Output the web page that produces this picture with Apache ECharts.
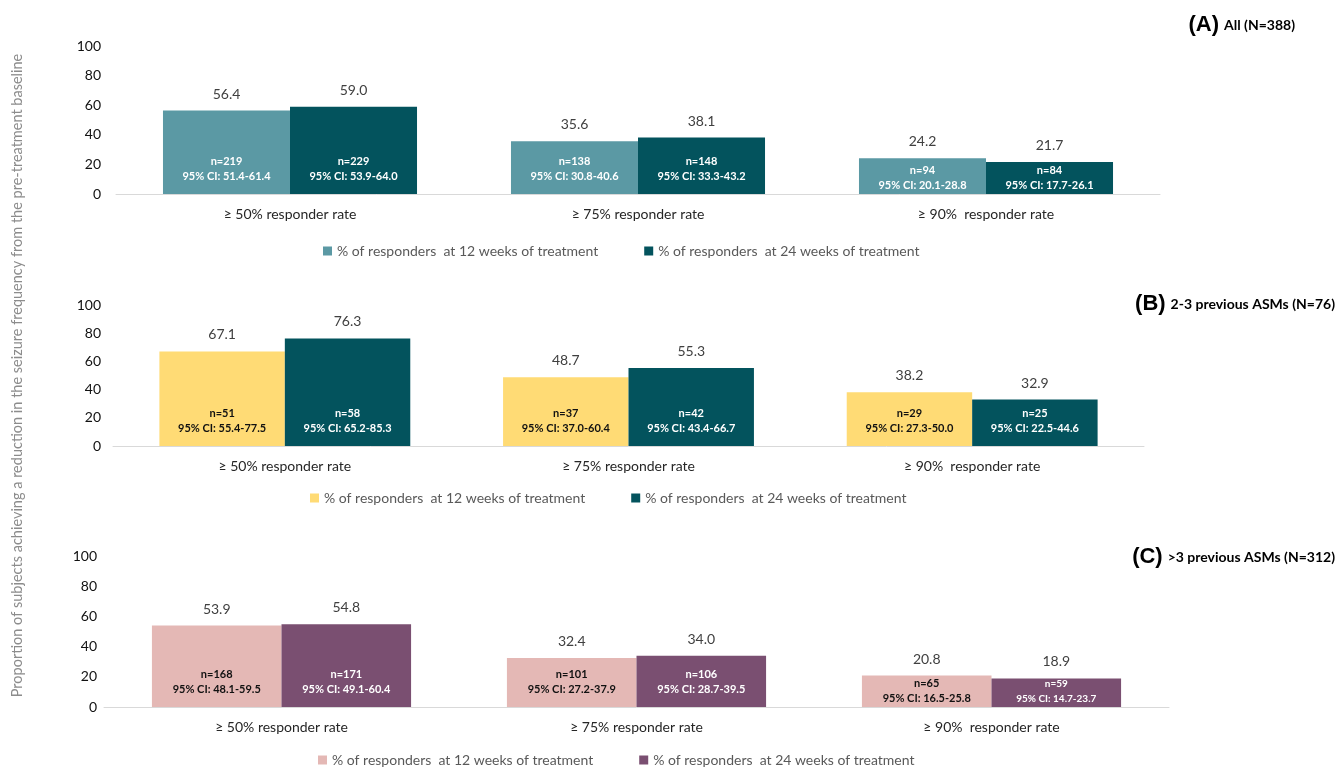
<!DOCTYPE html>
<html>
<head>
<meta charset="utf-8">
<script src="https://cdn.jsdelivr.net/npm/echarts@6/dist/echarts.min.js"></script>
<style>html,body{margin:0;padding:0;background:#fff}#c{width:1343px;height:769px}</style>
</head>
<body>
<div id="c"></div>
<script>
// ---- data ----
const categories = ['≥ 50% responder rate', '≥ 75% responder rate', '≥ 90%  responder rate'];
const legendLabels = ['% of responders  at 12 weeks of treatment', '% of responders  at 24 weeks of treatment'];
const yTicks = [0, 20, 40, 60, 80, 100];

const A12 = [56.4, 35.6, 24.2];
const A24 = [59.0, 38.1, 21.7];
const A12n = [219, 138, 94];
const A24n = [229, 148, 84];
const A12ci = ['51.4-61.4', '30.8-40.6', '20.1-28.8'];
const A24ci = ['53.9-64.0', '33.3-43.2', '17.7-26.1'];

const B12 = [67.1, 48.7, 38.2];
const B24 = [76.3, 55.3, 32.9];
const B12n = [51, 37, 29];
const B24n = [58, 42, 25];
const B12ci = ['55.4-77.5', '37.0-60.4', '27.3-50.0'];
const B24ci = ['65.2-85.3', '43.4-66.7', '22.5-44.6'];

const C12 = [53.9, 32.4, 20.8];
const C24 = [54.8, 34.0, 18.9];
const C12n = [168, 101, 65];
const C24n = [171, 106, 59];
const C12ci = ['48.1-59.5', '27.2-37.9', '16.5-25.8'];
const C24ci = ['49.1-60.4', '28.7-39.5', '14.7-23.7'];

const panelTitles = [['(A)', 'All (N=388)'], ['(B)', '2-3 previous ASMs (N=76)'], ['(C)', '>3 previous ASMs (N=312)']];
const yAxisTitle = 'Proportion of subjects achieving a reduction in the seizure frequency from the pre-treatment baseline';

// ---- chart ----
const FONT = 'Lato, "Open Sans", sans-serif';
const chart = echarts.init(document.getElementById('c'));

const grids = [
  {left: 116, width: 1044, top: 46, height: 148},
  {left: 113, width: 1031, top: 305, height: 141},
  {left: 104, width: 1065, top: 556, height: 151}
];
const yMargins = [15, 12, 7];

function barSeries(name, gi, values, ns, cis, color, textColor) {
  return {
    name: name, type: 'bar', xAxisIndex: gi, yAxisIndex: gi,
    data: values.map(v => ({
      value: v,
      label: {distance: v < 25 ? 1 : 10, fontSize: v < 20 ? 10 : 11}
    })),
    barGap: '0%', barCategoryGap: '27%',
    itemStyle: {color: color},
    label: {
      show: true, position: 'insideBottom', distance: 10,
      fontFamily: FONT, fontSize: 11, fontWeight: 'bold', lineHeight: 15,
      color: textColor,
      formatter: p => 'n=' + ns[p.dataIndex] + '\n95% CI: ' + cis[p.dataIndex]
    },
    markPoint: {
      symbol: 'rect', symbolSize: 1, itemStyle: {color: 'rgba(0,0,0,0)'},
      label: {show: true, position: 'top', distance: 9, fontFamily: FONT, fontSize: 14, color: '#404040',
        formatter: p => Number(p.value).toFixed(1)},
      data: values.map((v, i) => ({coord: [i, v], value: v}))
    }
  };
}

const series = [
  barSeries('A12', 0, A12, A12n, A12ci, '#5B99A4', '#ffffff'),
  barSeries('A24', 0, A24, A24n, A24ci, '#03535D', '#ffffff'),
  barSeries('B12', 1, B12, B12n, B12ci, '#FFDB75', '#111111'),
  barSeries('B24', 1, B24, B24n, B24ci, '#03535D', '#ffffff'),
  barSeries('C12', 2, C12, C12n, C12ci, '#E4B8B5', '#111111'),
  barSeries('C24', 2, C24, C24n, C24ci, '#7A4F71', '#ffffff')
];

const xAxis = grids.map((g, i) => ({
  type: 'category', gridIndex: i, data: categories,
  axisLine: {lineStyle: {color: '#D9D9D9', width: 1}},
  axisTick: {show: false},
  axisLabel: {fontFamily: FONT, fontSize: 14, color: '#262626', margin: 13}
}));

const yAxis = grids.map((g, i) => ({
  type: 'value', gridIndex: i, min: yTicks[0], max: yTicks[yTicks.length - 1], interval: yTicks[1] - yTicks[0],
  splitLine: {show: false}, axisLine: {show: false}, axisTick: {show: false},
  axisLabel: {fontFamily: FONT, fontSize: 14, color: '#111111', margin: yMargins[i]},
  name: i === 1 ? yAxisTitle : '',
  nameLocation: 'middle', nameRotate: 90, nameGap: 88,
  nameTextStyle: {fontFamily: FONT, fontSize: 14.5, color: '#8C8C8C'}
}));

const legendTops = [239, 486, 748];
const legendLefts = [318, 305, 313];
const legendNames = [['A12', 'A24'], ['B12', 'B24'], ['C12', 'C24']];
const legend = legendNames.map((names, i) => ({
  data: names, top: legendTops[i], left: legendLefts[i],
  icon: 'rect', itemWidth: 9, itemHeight: 9, itemGap: 46,
  selectedMode: false,
  textStyle: {fontFamily: FONT, fontSize: 14, color: '#595959'},
  formatter: n => legendLabels[n.endsWith('12') ? 0 : 1]
}));

const titleRights = [43, 3, 3];
const titleTops = [9, 288, 541];
const title = panelTitles.map((t, i) => ({
  text: '{a|' + t[0] + '} {b|' + t[1] + '}',
  right: titleRights[i], top: titleTops[i],
  textStyle: {
    rich: {
      a: {fontFamily: '"Liberation Sans", Arial, sans-serif', fontSize: 22, fontWeight: 'bold', color: '#000'},
      b: {fontFamily: FONT, fontSize: 14, fontWeight: 'bold', color: '#000'}
    }
  }
}));

chart.setOption({
  animation: false,
  title: title,
  grid: grids,
  xAxis: xAxis,
  yAxis: yAxis,
  legend: legend,
  series: series
});
</script>
</body>
</html>
